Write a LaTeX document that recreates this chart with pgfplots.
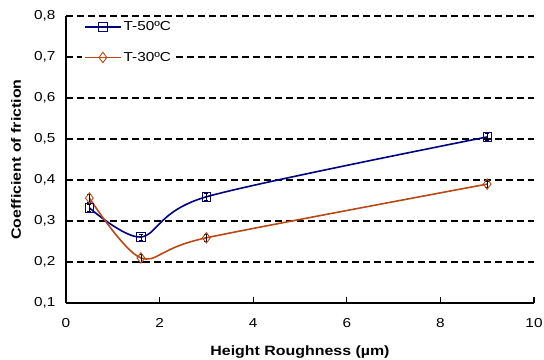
\documentclass[border=0pt]{standalone}
\usepackage{fontspec}
\setmainfont{Liberation Sans}[FakeStretch=1.18]
\usepackage{pgfplots}
\pgfplotsset{compat=1.18}
\definecolor{bluec}{RGB}{0,0,128}
\definecolor{orangec}{RGB}{184,72,20}
\begin{document}
\begin{tikzpicture}
\begin{axis}[
  scale only axis,
  width=468bp, height=287bp,
  xmin=0, xmax=10, ymin=0.1, ymax=0.8,
  xtick={0,2,4,6,8,10},
  ytick={0.1,0.2,...,0.8},
  axis x line=bottom, axis y line=left,
  axis line style={-, line width=1.1bp, black},
  x axis line style={-}, y axis line style={-},
  tick align=inside,
  major tick length=6bp,
  xtick style={black, line width=1.1bp},
  ytick style={draw=none},
  ymajorgrids,
  major grid style={black, dash pattern=on 7bp off 4bp, line width=1.5bp},
  /pgf/number format/assume math mode=true,
  tick label style={font=\fontsize{13bp}{15bp}\selectfont},
  yticklabel style={/pgf/number format/.cd, fixed, fixed zerofill, precision=1, use comma, /tikz/.cd, xshift=-7bp},
  xticklabel style={yshift=-12bp},
  xlabel={Height Roughness (µm)},
  ylabel={Coefficient of friction},
  label style={font=\bfseries\fontsize{13.5bp}{15bp}\selectfont},
  x label style={at={(axis description cs:0.5,0)}, yshift=-49bp, anchor=center},
  y label style={at={(axis description cs:-0.107,0.5)}, anchor=center},
  legend style={at={(axis description cs:0.034,0.995)}, anchor=north west, draw=none, fill=white,
     font=\fontsize{13bp}{15bp}\selectfont, row sep=16bp, inner sep=2bp},
  legend cell align=left,
  legend image code/.code={\draw[#1, line width=1.6bp, mark=none] (0bp,0bp) -- (36bp,0bp); \draw[#1] plot coordinates {(18bp,0bp)};},
  clip=false,
]
\addplot[bluec, line width=1.6bp, smooth, tension=0.5, mark=square, mark size=4.2bp,
  mark options={solid, line width=0.9bp, fill=white},
  error bars/.cd, y dir=both, y explicit, error bar style={black, line width=0.6bp}, error mark options={rotate=90, mark size=2bp, black}]
  coordinates {(0.5,0.332) +- (0,0.008) (1.6,0.261) +- (0,0.008) (3,0.359) +- (0,0.008) (9,0.505) +- (0,0.008)};
\addlegendentry{T-50ºC}
\addplot[orangec, line width=1.6bp, smooth, tension=0.5, mark=diamond, mark size=5.2bp,
  mark options={solid, line width=0.9bp, fill=white},
  error bars/.cd, y dir=both, y explicit, error bar style={black, line width=0.6bp}, error mark options={rotate=90, mark size=2bp, black}]
  coordinates {(0.5,0.356) +- (0,0.01) (1.6,0.21) +- (0,0.01) (3,0.259) +- (0,0.008) (9,0.39) +- (0,0.008)};
\addlegendentry{T-30ºC}
\end{axis}
\pgfresetboundingbox
\path ([xshift=-66bp,yshift=-57bp]current axis.south west) rectangle ([xshift=10bp,yshift=16bp]current axis.north east);
\end{tikzpicture}
\end{document}
